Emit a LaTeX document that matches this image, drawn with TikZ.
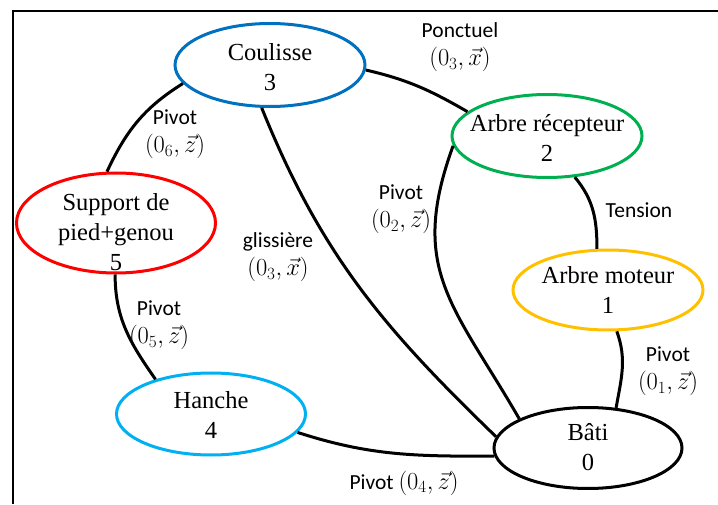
\RequirePackage{fix-cm}
\documentclass[tikz,border=0pt]{standalone}
\usepackage{fontspec}
\setmainfont{Liberation Serif}
\newfontfamily\labfont{Carlito}
\usetikzlibrary{shapes.geometric}
\definecolor{cblue}{RGB}{0,112,192}
\definecolor{cgreen}{RGB}{0,176,80}
\definecolor{cred}{RGB}{255,0,0}
\definecolor{clight}{RGB}{0,176,240}
\definecolor{cgold}{RGB}{255,192,0}
\newcommand\mth[1]{{\fontsize{24.5}{28}\selectfont$#1$}}
\tikzset{
  ell/.style={ellipse, line width=3pt, inner sep=0pt},
  ntext/.style={font=\fontsize{24.5}{30}\selectfont, align=center, inner sep=0pt},
  lab/.style={font=\labfont\fontsize{21.5}{28}\selectfont, align=center, inner sep=0pt},
  edge/.style={line width=3pt},
  frame/.style={line width=2pt}
}
\begin{document}
\begin{tikzpicture}[x=1pt,y=1pt]
\useasboundingbox (0,0) rectangle (718,504);
\coordinate (tl) at (13,493);
\coordinate (tr) at (718,493);
\coordinate (bl) at (13,0);
\draw[frame] (tr) -- (tl) -- (bl);

% ellipses
\node[ell, draw=cblue, minimum width=190pt, minimum height=83pt] (c3) at (270,439) {};
\node[ell, draw=cgreen, minimum width=190pt, minimum height=83pt] (c2) at (547,368) {};
\node[ell, draw=cred, minimum width=199pt, minimum height=100pt] (c5) at (116,281) {};
\node[ell, draw=clight, minimum width=189pt, minimum height=82pt] (c4) at (211,90) {};
\node[ell, draw=cgold, minimum width=190pt, minimum height=80pt] (c1) at (608,214) {};
\node[ell, draw=black, minimum width=188pt, minimum height=81pt] (c0) at (588,56) {};

% texts
\node[ntext] (t3) at (270,437) {Coulisse\\3};
\node[ntext] (t2) at (547,366) {Arbre récepteur\\2};
\node[ntext] (t5) at (116,272) {Support de\\pied+genou\\5};
\node[ntext] (t4) at (211,89) {Hanche\\4};
\node[ntext] (t1) at (608,214) {Arbre moteur\\1};
\node[ntext] (t0) at (588,57) {Bâti\\0};

% connectors
\draw[edge] (c3.192) to[out=212,in=65] (c5.100);
\draw[edge] (c3.357) to[out=-13,in=150] (c2.163);
\draw[edge] (c3.259) to[out=-68,in=136] (c0.173);
\draw[edge] (c2.186) to[out=250,in=120,looseness=1.2] (c0.157);
\draw[edge] (c2.304) to[out=-50,in=90] (c1.105);
\draw[edge] (c1.282) to[out=-70,in=80] (c0.55);
\draw[edge] (c5.269) to[out=-90,in=125] (c4.148);
\draw[edge] (c4.348) to[out=-18,in=180] (c0.185);

% labels
\node[lab] (l6) at (175,370) {Pivot\\\mth{(0_6,\vec{z})}};
\node[lab] (l3p) at (460,457) {Ponctuel\\\mth{(0_3,\vec{x})}};
\node[lab] (l3g) at (278,247) {glissière\\\mth{(0_3,\vec{x})}};
\node[lab] (l2) at (401,295) {Pivot\\\mth{(0_2,\vec{z})}};
\node[lab] (lt) at (639,294) {Tension};
\node[lab] (l1) at (668,133) {Pivot\\\mth{(0_1,\vec{z})}};
\node[lab] (l5) at (159,179) {Pivot\\\mth{(0_5,\vec{z})}};
\node[lab] (l4) at (404,21) {Pivot \mth{(0_4,\vec{z})}};
\end{tikzpicture}
\end{document}
